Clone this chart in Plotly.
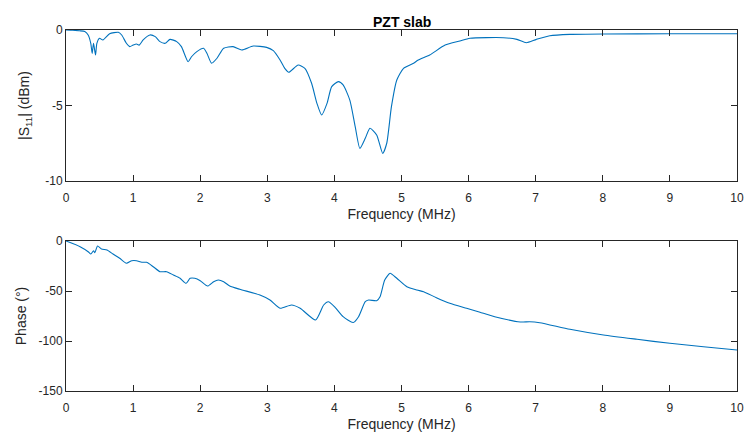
import plotly.graph_objects as go

# |S11| (dBm) vs frequency (MHz)
freq_s11 = [0, 0.1, 0.2, 0.28, 0.33, 0.37, 0.39, 0.41, 0.44, 0.46, 0.5, 0.55, 0.65, 0.78, 0.83,
            0.9, 0.95, 1.0, 1.05, 1.09, 1.15, 1.25, 1.33, 1.4, 1.48, 1.55, 1.65, 1.72, 1.82, 1.87,
            1.95, 2.05, 2.1, 2.17, 2.25, 2.35, 2.49, 2.62, 2.79, 2.99, 3.09, 3.19, 3.26, 3.32, 3.46,
            3.56, 3.66, 3.74, 3.81, 3.89, 3.96, 4.06, 4.13, 4.23, 4.31, 4.38, 4.46, 4.53, 4.63, 4.72,
            4.78, 4.85, 4.93, 5.03, 5.18, 5.25, 5.42, 5.65, 5.87, 6.02, 6.52, 6.72, 6.86, 7.01, 7.21,
            7.51, 8.01, 9.0, 10.0]
s11_db = [0, -0.02, -0.05, -0.1, -0.33, -0.9, -1.55, -0.88, -1.66, -0.88, -0.55, -0.66, -0.25, -0.15, -0.33,
          -0.88, -1.1, -1.0, -0.93, -1.0, -0.66, -0.33, -0.44, -0.77, -0.88, -0.62, -0.77, -1.1, -2.1, -1.77,
          -1.43, -1.21, -1.54, -2.2, -1.87, -1.21, -1.1, -1.32, -1.06, -1.15, -1.37, -1.99, -2.54, -2.8, -2.32,
          -2.54, -3.53, -4.86, -5.63, -4.86, -3.75, -3.42, -3.64, -4.64, -6.4, -7.84, -7.17, -6.51, -6.95, -8.17,
          -7.5, -5.08, -3.31, -2.54, -2.2, -1.99, -1.66, -1.0, -0.73, -0.55, -0.51, -0.62, -0.84, -0.62, -0.38,
          -0.29, -0.26, -0.25, -0.25]

# Phase (deg) vs frequency (MHz)
freq_phase = [0, 0.21, 0.33, 0.37, 0.41, 0.43, 0.47, 0.53, 0.61, 0.7, 0.8, 0.9, 0.98, 1.05, 1.13,
              1.2, 1.3, 1.4, 1.5, 1.6, 1.7, 1.79, 1.85, 1.92, 2.0, 2.11, 2.2, 2.27, 2.35, 2.44,
              2.59, 2.89, 3.04, 3.19, 3.36, 3.49, 3.72, 3.84, 3.91, 4.01, 4.13, 4.28, 4.36, 4.46, 4.51,
              4.63, 4.68, 4.75, 4.83, 4.93, 5.08, 5.23, 5.33, 5.52, 5.72, 5.97, 6.17, 6.39, 6.77, 6.91,
              7.06, 7.51, 8.01, 8.51, 9.0, 9.5, 10.0]
phase_deg = [0, -5.7, -10.7, -13, -9.7, -11.7, -5, -8, -9, -13, -17.3, -22.3, -19.7, -19.7, -21.3,
             -21.3, -25.7, -30.7, -30.7, -34, -37.3, -42.3, -37.3, -37.3, -39.7, -45, -40.7, -39, -40.7, -45,
             -48.3, -54, -59, -67.3, -64, -67.3, -79, -64, -60.7, -66.3, -75.7, -81.5, -75.7, -60.7, -59,
             -59.7, -55.7, -39, -32.3, -37.3, -45.7, -49, -50.7, -56.7, -62.3, -67.3, -71.3, -75.7, -81, -80.7,
             -81.7, -88.3, -94, -98.3, -102.3, -105.7, -109]

x_ticks = list(range(0, 11))
s11_ticks = [0, -5, -10]
phase_ticks = [0, -50, -100, -150]

W, H = 745, 433
LINE = "#0072BD"
AX = "#262626"
FONT = "Liberation Sans, Arial, Helvetica, sans-serif"

fig = go.Figure()
fig.add_trace(go.Scatter(x=freq_s11, y=s11_db, mode="lines", line=dict(color=LINE, width=1.1, shape="spline", smoothing=0.6),
                         xaxis="x", yaxis="y", showlegend=False))
fig.add_trace(go.Scatter(x=freq_phase, y=phase_deg, mode="lines", line=dict(color=LINE, width=1.1, shape="spline", smoothing=0.6),
                         xaxis="x2", yaxis="y2", showlegend=False))

def axstyle(**kw):
    d = dict(showline=True, linecolor=AX, linewidth=1, mirror="ticks", ticks="inside", ticklen=6,
             tickcolor=AX, tickwidth=1, showgrid=False, zeroline=False, automargin=False,
             tickfont=dict(family=FONT, size=12, color=AX),
             title_font=dict(family=FONT, size=14, color=AX))
    d.update(kw)
    return d

def labels(vals):
    return [str(v) for v in vals]

x0, x1 = 66 / W, 737 / W
fig.update_layout(
    width=W, height=H, margin=dict(l=0, r=0, t=0, b=0),
    paper_bgcolor="white", plot_bgcolor="white",
    xaxis=axstyle(domain=[x0, x1], range=[0, 10], tickvals=x_ticks, ticktext=labels(x_ticks), anchor="y",
                  ticklabelstandoff=6, title=dict(text="Frequency (MHz)", standoff=4)),
    yaxis=axstyle(domain=[1 - 181 / H, 1 - 30 / H], range=[-10, 0], tickvals=s11_ticks, ticktext=labels(s11_ticks),
                  anchor="x", title=dict(text="|S<sub>11</sub>| (dBm)", standoff=12)),
    xaxis2=axstyle(domain=[x0, x1], range=[0, 10], tickvals=x_ticks, ticktext=labels(x_ticks), anchor="y2",
                   ticklabelstandoff=6, title=dict(text="Frequency (MHz)", standoff=4)),
    yaxis2=axstyle(domain=[1 - 391 / H, 1 - 241 / H], range=[-150, 0], tickvals=phase_ticks,
                   ticktext=labels(phase_ticks), anchor="x2", title=dict(text="Phase (°)", standoff=8)),
    annotations=[dict(text="<b>PZT slab</b>", x=(x0 + x1) / 2, y=1 - 22 / H, xref="paper", yref="paper",
                      showarrow=False, font=dict(family=FONT, size=14, color="#000000"), yanchor="middle")],
)

fig.write_html("out.html")
